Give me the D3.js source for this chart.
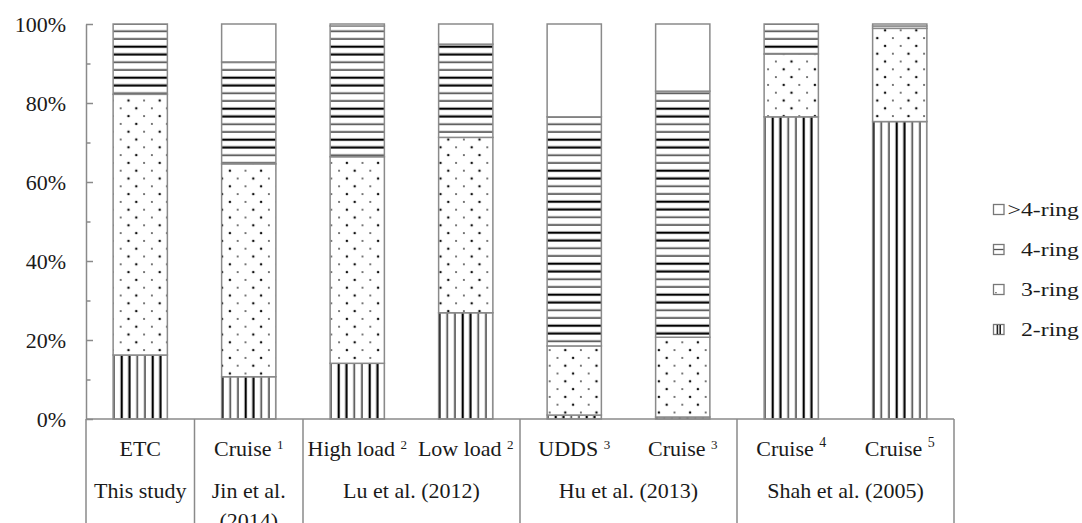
<!DOCTYPE html>
<html><head><meta charset="utf-8">
<script src="https://cdn.jsdelivr.net/npm/d3@7"></script>
<style>
body{margin:0;background:#fff}
text{font-family:"Liberation Serif","Times New Roman",serif;fill:#1a1a1a}
</style>
</head><body>
<svg id="c" width="1082" height="523"></svg>
<script>
// ---------- data ----------
const categories = ["ETC","Cruise","High load","Low load","UDDS","Cruise","Cruise","Cruise"];
const notes      = ["","1","2","2","3","3","4","5"];
const studies    = [["This study"],["Jin et al.","(2014)"],["Lu et al. (2012)"],["Hu et al. (2013)"],["Shah et al. (2005)"]];
const studyFirst = [0,1,2,4,6];
const studyLast  = [0,1,3,5,7];
const ring2  = [16.2,10.7,14.1,26.9, 1.0, 0.5,76.5,75.3];
const ring3  = [66.0,53.9,52.3,44.4,17.5,20.2,15.9,23.6];
const ring4  = [17.8,25.8,33.1,23.6,58.0,62.3, 7.6, 0.6];
const ringGt4= [ 0.0, 9.6, 0.5, 5.1,23.5,17.0, 0.0, 0.5];
const seriesKeys   = ["r2","r3","r4","r5"];
const legendLabels = [">4-ring","4-ring","3-ring","2-ring"];
const legendKeys   = ["r5","r4","r3","r2"];
const yTicks = [0,20,40,60,80,100];
const yMinorTicks = [10,30,50,70,90];

// ---------- setup ----------
const svg = d3.select("#c");
const grey = "#8a8a8a";
const x = d3.scaleBand().domain(d3.range(categories.length)).range([86,954]).paddingInner(0.5).paddingOuter(0.25);
const y = d3.scaleLinear().domain([0,100]).range([419,24]);

const defs = svg.append("defs");
const stripeSpec = [[0,2.2,"#000"],[7.75,2.2,"#000"],[15.5,1.5,"#333"],[23.25,1.5,"#333"]];
// vertical stripes (2-ring)
const p2 = defs.append("pattern").attr("id","p2").attr("patternUnits","userSpaceOnUse")
  .attr("x",28.7).attr("y",0).attr("width",31).attr("height",10);
p2.append("rect").attr("width",31).attr("height",10).attr("fill","#fff");
stripeSpec.forEach(([o,w,c])=>{
  p2.append("rect").attr("x",o-w/2).attr("y",0).attr("width",w).attr("height",10).attr("fill",c);
  if(o-w/2<0) p2.append("rect").attr("x",31+o-w/2).attr("y",0).attr("width",w).attr("height",10).attr("fill",c);
});
// horizontal stripes (4-ring)
const p4 = defs.append("pattern").attr("id","p4").attr("patternUnits","userSpaceOnUse")
  .attr("x",0).attr("y",15.7).attr("width",10).attr("height",31);
p4.append("rect").attr("width",10).attr("height",31).attr("fill","#fff");
stripeSpec.forEach(([o,w,c])=>{
  p4.append("rect").attr("y",o-w/2).attr("x",0).attr("height",w).attr("width",10).attr("fill",c);
  if(o-w/2<0) p4.append("rect").attr("y",31+o-w/2).attr("x",0).attr("height",w).attr("width",10).attr("fill",c);
});
// dots (3-ring)
const p3 = defs.append("pattern").attr("id","p3").attr("patternUnits","userSpaceOnUse")
  .attr("x",7.6).attr("y",10.8).attr("width",31.2).attr("height",31.2);
p3.append("rect").attr("width",31.2).attr("height",31.2).attr("fill","#fff");
for(let j=0;j<4;j++) for(let i=0;i<2;i++){
  const big = (i+j)%2===0;
  p3.append("circle").attr("cx",3.9+15.6*i+7.8*(j%2)).attr("cy",3.9+7.8*j)
    .attr("r",big?1.25:0.95).attr("fill",big?"#111":"#444");
}
const fills = {r2:"url(#p2)",r3:"url(#p3)",r4:"url(#p4)",r5:"#fff"};

// ---------- stacked bars ----------
const rows = categories.map((c,i)=>({r2:ring2[i],r3:ring3[i],r4:ring4[i],r5:ringGt4[i]}));
const stacked = d3.stack().keys(seriesKeys)(rows);
svg.append("g").selectAll("g").data(stacked).join("g")
  .attr("fill",s=>fills[s.key])
  .selectAll("rect").data(s=>s.map((d,i)=>({d,i}))).join("rect")
  .attr("x",o=>x(o.i)).attr("width",x.bandwidth())
  .attr("y",o=>y(o.d[1])).attr("height",o=>y(o.d[0])-y(o.d[1]))
  .attr("stroke",grey).attr("stroke-width",1.5);

// ---------- y axis ----------
const yAxis = svg.append("g").attr("transform","translate(86,0)")
  .call(d3.axisLeft(y).tickValues(yTicks).tickFormat(d=>d+"%").tickSizeInner(-7).tickSizeOuter(0).tickPadding(20));
yAxis.select(".domain").attr("stroke",grey).attr("stroke-width",1.5);
yAxis.selectAll(".tick line").attr("stroke",grey).attr("stroke-width",1.5);
yAxis.selectAll(".tick text").attr("font-size",22).attr("font-family",null).attr("fill","#1a1a1a").attr("dy","0.34em");
const yMinor = svg.append("g").attr("transform","translate(86,0)")
  .call(d3.axisLeft(y).tickValues(yMinorTicks).tickFormat("").tickSizeInner(-4.5).tickSizeOuter(0));
yMinor.select(".domain").remove();
yMinor.selectAll(".tick line").attr("stroke",grey).attr("stroke-width",1.5);

// ---------- category table ----------
const pad = (x.step() - x.bandwidth())/2;
const tbl = svg.append("g").attr("stroke",grey).attr("stroke-width",1.5);
tbl.append("line").attr("x1",x.range()[0]).attr("x2",x.range()[1]).attr("y1",y(0)).attr("y2",y(0));
const bounds = studyFirst.map(i=>x(i)-pad).concat([x(studyLast[studyLast.length-1])+x.bandwidth()+pad]);
tbl.selectAll("line.v").data(bounds).join("line").attr("class","v")
  .attr("x1",d=>d).attr("x2",d=>d).attr("y1",y(0)).attr("y2",530);

const catT = svg.append("g").selectAll("text").data(categories).join("text")
  .attr("x",(d,i)=>x(i)+x.bandwidth()/2).attr("y",456).attr("text-anchor","middle").attr("font-size",22);
catT.each(function(d,i){
  const t = d3.select(this);
  t.append("tspan").text(d + (notes[i] ? " " : ""));
  if(notes[i]){
    const hi = +notes[i] >= 4;
    t.append("tspan").text(notes[i]).attr("font-size",hi?14:13).attr("dy",hi?-9:-7);
  }
});
svg.append("g").selectAll("text").data(studies).join("text")
  .attr("text-anchor","middle").attr("font-size",22)
  .attr("y",498)
  .each(function(lines,k){
    const t=d3.select(this), cx=(x(studyFirst[k]) + x(studyLast[k]) + x.bandwidth())/2;
    lines.forEach((l,j)=>t.append("tspan").attr("x",cx).attr("dy",j?30:0).text(l));
  });

// ---------- legend ----------
const lg = svg.append("g").selectAll("g").data(legendKeys).join("g")
  .attr("transform",(d,i)=>`translate(0,${216+i*40})`);
lg.append("rect").attr("x",993.5).attr("y",-11.5).attr("width",10.5).attr("height",10)
  .attr("fill","#fff").attr("stroke","#777").attr("stroke-width",1.3);
lg.each(function(k){
  const g=d3.select(this);
  if(k==="r4") g.append("line").attr("x1",994).attr("x2",1003.5).attr("y1",-6.5).attr("y2",-6.5).attr("stroke","#555").attr("stroke-width",1.3);
  if(k==="r3") g.append("rect").attr("x",995.3).attr("y",-4).attr("width",1.3).attr("height",1.3).attr("fill","#555");
  if(k==="r2"){
    g.append("rect").attr("x",996.6).attr("y",-11).attr("width",1.6).attr("height",9).attr("fill","#222");
    g.append("rect").attr("x",999.4).attr("y",-11).attr("width",1.6).attr("height",9).attr("fill","#222");
  }
});
lg.append("text").attr("transform","translate(1079,0) scale(1.25,1)")
  .attr("text-anchor","end").attr("font-size",19)
  .text((k,i)=>legendLabels[i]);
</script>
</body></html>
